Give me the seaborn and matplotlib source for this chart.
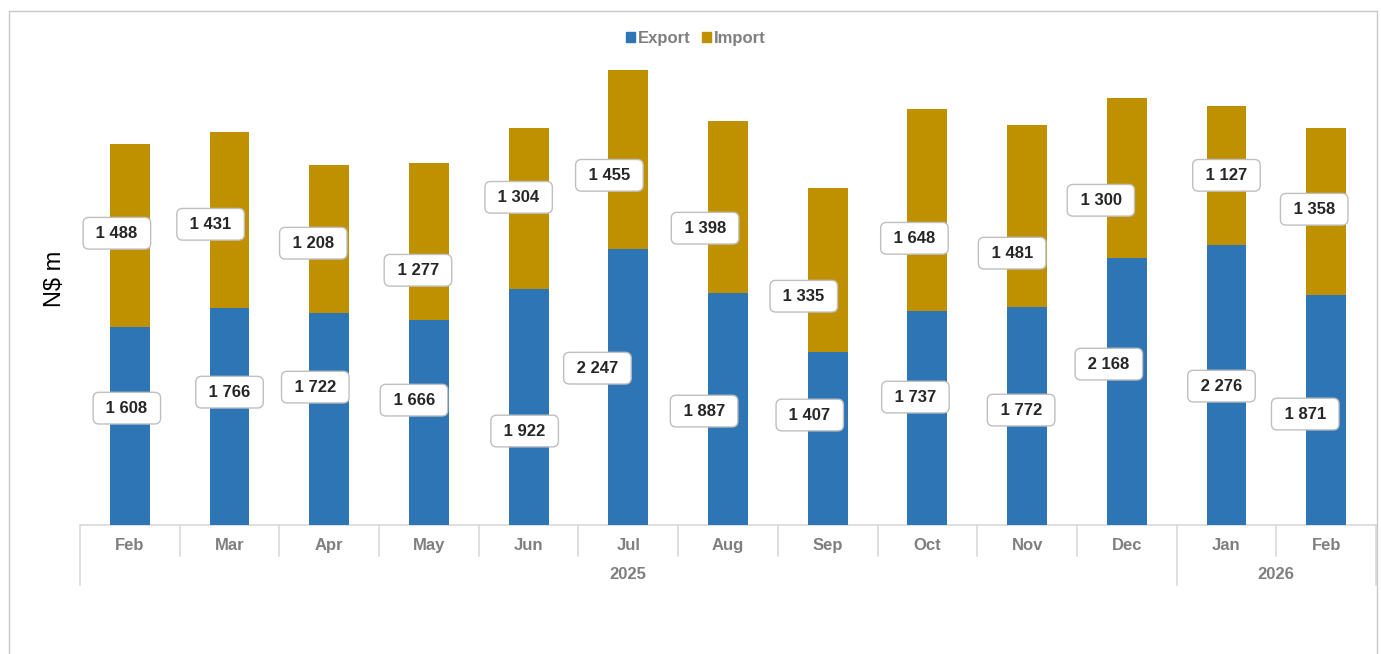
import matplotlib
matplotlib.use("Agg")
import matplotlib.pyplot as plt
import matplotlib.transforms as mtransforms
from matplotlib.patches import Patch
from matplotlib.lines import Line2D
import seaborn as sns
import pandas as pd

# Monthly trade values, N$ million
months = ["Feb", "Mar", "Apr", "May", "Jun", "Jul", "Aug", "Sep", "Oct", "Nov", "Dec", "Jan", "Feb"]
years = ["2025"] * 11 + ["2026"] * 2
export = [1608, 1766, 1722, 1666, 1922, 2247, 1887, 1407, 1737, 1772, 2168, 2276, 1871]
imports = [1488, 1431, 1208, 1277, 1304, 1455, 1398, 1335, 1648, 1481, 1300, 1127, 1358]

# Placement of the value callouts (shift from bar centre in category units, height in N$ m)
export_lab_dx = [-0.03, 0.00, -0.14, -0.15, -0.04, -0.31, -0.24, -0.18, -0.12, -0.06, -0.18, -0.05, -0.21]
export_lab_y = [950, 1080, 1121, 1015, 764, 1275, 926, 894, 1040, 934, 1308, 1129, 902]
import_lab_dx = [-0.13, -0.19, -0.16, -0.11, -0.10, -0.19, -0.23, -0.24, -0.13, -0.15, -0.26, 0.00, -0.12]
import_lab_y = [2372, 2445, 2291, 2071, 2664, 2843, 2413, 1860, 2331, 2210, 2640, 2843, 2567]

BLUE = "#2E75B6"
GOLD = "#BF9000"
GREY_TXT = "#7F7F7F"
GREY_LINE = "#D9D9D9"

keys = [f"{m} {y}" for m, y in zip(months, years)]
df = pd.DataFrame({"key": keys, "export": export, "import": imports})
df["total"] = df["export"] + df["import"]

sns.set_theme(style="white")
plt.rcParams["font.family"] = ["Liberation Sans", "DejaVu Sans"]

fig = plt.figure(figsize=(13.81, 6.54), dpi=100)
ax = fig.add_axes([80 / 1381, 1 - 525 / 654, (1376 - 80) / 1381, 492 / 654])

# Stacked bars: full height in gold, export portion over it in blue
bar_kw = dict(saturation=1, width=0.4, ax=ax, linewidth=0, edgecolor="none")
sns.barplot(data=df, x="key", y="total", color=GOLD, zorder=2, **bar_kw)
sns.barplot(data=df, x="key", y="export", color=BLUE, zorder=3, **bar_kw)

ax.set_xlim(-0.5, len(keys) - 0.5)
ax.set_ylim(0, 4000)
for s in ax.spines.values():
    s.set_visible(False)
ax.set_xticks([])
ax.set_yticks([])
ax.set_xlabel("")
ax.set_ylabel("N$ m", fontsize=17, color="#000000", labelpad=10)

def fmt(v):
    pad = "\u00a0"
    return pad + f"{v:,}".replace(",", " ") + pad

box = dict(boxstyle="round,pad=0.5,rounding_size=0.35", fc="white", ec="#BFBFBF", lw=1.0)
for i in range(len(keys)):
    ax.text(i + export_lab_dx[i], export_lab_y[i], fmt(export[i]), ha="center", va="center",
            fontsize=12, fontweight="bold", color="#262626", bbox=box, zorder=5)
    ax.text(i + import_lab_dx[i], import_lab_y[i], fmt(imports[i]), ha="center", va="center",
            fontsize=12, fontweight="bold", color="#262626", bbox=box, zorder=5)

# Two-level category axis
tr = mtransforms.blended_transform_factory(ax.transData, ax.transAxes)
n = len(keys)
ax.add_line(Line2D([-0.5, n - 0.5], [0, 0], transform=tr, color=GREY_LINE, lw=1.2, clip_on=False))
group_edges = [-0.5, n - 0.5]
for i in range(1, n):
    if years[i] != years[i - 1]:
        group_edges.append(i - 0.5)
for i in range(n + 1):
    x = i - 0.5
    y_end = -0.122 if x in group_edges else -0.063
    ax.add_line(Line2D([x, x], [0, y_end], transform=tr, color=GREY_LINE, lw=1.2, clip_on=False))
for i, m in enumerate(months):
    ax.text(i, -0.0407, m, transform=tr, ha="center", va="center", fontsize=12,
            fontweight="bold", color=GREY_TXT)
for yr in sorted(set(years)):
    idx = [i for i, y in enumerate(years) if y == yr]
    ax.text((idx[0] + idx[-1]) / 2, -0.1016, yr, transform=tr, ha="center", va="center",
            fontsize=12, fontweight="bold", color=GREY_TXT)

# Legend
handles = [Patch(color=BLUE, label="Export"), Patch(color=GOLD, label="Import")]
leg = fig.legend(handles=handles, loc="center", bbox_to_anchor=(0.5 + 5 / 1381, 1 - 38 / 654), ncol=2,
                 frameon=False, handlelength=0.55, handleheight=0.55, handletextpad=0.15,
                 columnspacing=0.7, prop={"size": 12, "weight": "bold"})
for t in leg.get_texts():
    t.set_color(GREY_TXT)

# Chart frame
frame_kw = dict(transform=fig.transFigure, color="#C8C8C8", lw=1.0)
fx0, fx1, fy1 = 9 / 1381, 1377 / 1381, 1 - 11 / 654
fig.add_artist(Line2D([fx0, fx1], [fy1, fy1], **frame_kw))
fig.add_artist(Line2D([fx0, fx0], [0, fy1], **frame_kw))
fig.add_artist(Line2D([fx1, fx1], [0, fy1], **frame_kw))

fig.savefig("out.png", dpi=100, facecolor="white")
